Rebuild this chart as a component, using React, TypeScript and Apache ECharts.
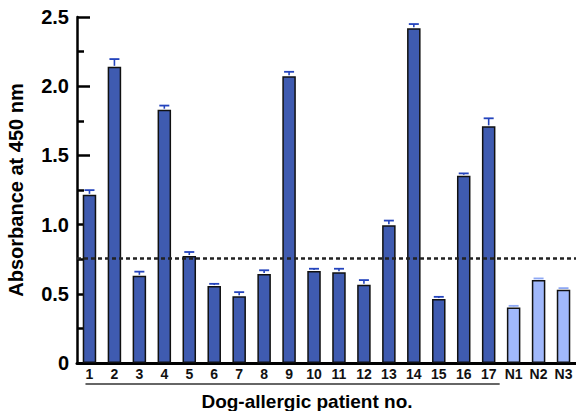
import React, { useEffect, useRef } from "react";
import * as echarts from "echarts";

const categories = ["1", "2", "3", "4", "5", "6", "7", "8", "9", "10", "11", "12", "13", "14", "15", "16", "17", "N1", "N2", "N3"];
const patientMeans = [1.215, 2.14, 0.63, 1.83, 0.773, 0.556, 0.483, 0.643, 2.072, 0.665, 0.655, 0.565, 0.995, 2.418, 0.462, 1.353, 1.71];
const patientErrors = [0.034, 0.056, 0.03, 0.03, 0.029, 0.016, 0.029, 0.027, 0.032, 0.016, 0.026, 0.034, 0.034, 0.031, 0.016, 0.017, 0.058];
const normalMeans = [0.401, 0.599, 0.529];
const normalErrors = [0.012, 0.012, 0.012];
const cutoff = 0.76;
const yMin = 0;
const yMax = 2.5;
const yInterval = 0.5;

const DARK = "#3f5bb0";
const LIGHT = "#a0b8fb";
const DARK_ERR = "#2444bd";
const LIGHT_ERR = "#8ea8f4";
const FONT = "'Liberation Sans', Arial, Helvetica, sans-serif";

export default function App() {
  const ref = useRef<HTMLDivElement>(null);

  useEffect(() => {
    if (!ref.current) return;
    document.body.style.margin = "0";
    const chart = echarts.init(ref.current, undefined, { renderer: "svg" });

    const means = [...patientMeans, ...normalMeans];
    const errors = [...patientErrors, ...normalErrors];
    const nPat = patientMeans.length;

    const barData = means.map((v, i) => ({
      value: v,
      itemStyle: { color: i < nPat ? DARK : LIGHT },
    }));
    const errData = means.map((v, i) => [i, v, errors[i], i < nPat ? 0 : 1]);

    chart.setOption({
      animation: false,
      grid: { left: 77, right: -6, top: 17, bottom: 48, containLabel: false },
      xAxis: {
        type: "category",
        data: categories,
        axisLine: { show: true, lineStyle: { color: "#000", width: 3 } },
        axisTick: { show: false },
        axisLabel: {
          interval: 0,
          margin: 4,
          color: "#111",
          fontSize: 14,
          fontWeight: "bold",
          fontFamily: FONT,
        },
        splitLine: { show: false },
      },
      yAxis: {
        type: "value",
        min: yMin,
        max: yMax,
        interval: yInterval,
        axisLine: { show: true, lineStyle: { color: "#000", width: 2.5 } },
        axisTick: { show: true, inside: true, length: 13, lineStyle: { color: "#000", width: 2.5 } },
        minorTick: { show: true, splitNumber: 2, length: 7, lineStyle: { color: "#000", width: 2.5 } },
        splitLine: { show: false },
        axisLabel: {
          margin: 8,
          color: "#000",
          fontSize: 20,
          fontWeight: "bold",
          fontFamily: FONT,
          formatter: (v: number) => (v === 0 ? "0" : v.toFixed(1)),
        },
      },
      series: [
        {
          type: "bar",
          data: barData,
          barWidth: 13.5,
          itemStyle: { borderColor: "#111", borderWidth: 1.5 },
          markLine: {
            silent: true,
            symbol: ["none", "none"],
            label: { show: false },
            lineStyle: { type: [4, 3], width: 2.5, color: "#222" },
            data: [{ yAxis: cutoff }],
          },
          z: 2,
        },
        {
          type: "custom",
          data: errData,
          z: 3,
          renderItem: (params: any, api: any) => {
            const x = api.value(0);
            const m = api.value(1);
            const e = api.value(2);
            const color = api.value(3) ? LIGHT_ERR : DARK_ERR;
            const top = api.coord([x, m + e]);
            const base = api.coord([x, m]);
            const hw = 5;
            return {
              type: "group",
              children: [
                {
                  type: "line",
                  shape: { x1: top[0], y1: top[1], x2: base[0], y2: base[1] - 1 },
                  style: { stroke: color, lineWidth: 1.6 },
                },
                {
                  type: "line",
                  shape: { x1: top[0] - hw, y1: top[1], x2: top[0] + hw, y2: top[1] },
                  style: { stroke: color, lineWidth: 1.8 },
                },
              ],
            };
          },
        },
      ],
    });

    const p1 = chart.convertToPixel({ xAxisIndex: 0, yAxisIndex: 0 }, [0, 0]);
    const p17 = chart.convertToPixel({ xAxisIndex: 0, yAxisIndex: 0 }, [nPat - 1, 0]);
    const pTop = chart.convertToPixel({ xAxisIndex: 0, yAxisIndex: 0 }, [0, yMax]);
    const yMid = (p1[1] + pTop[1]) / 2;

    chart.setOption({
      graphic: [
        {
          type: "line",
          shape: { x1: p1[0] - 4, y1: p1[1] + 21, x2: p17[0] + 11, y2: p1[1] + 21 },
          style: { stroke: "#333", lineWidth: 1.5 },
          silent: true,
        },
        {
          type: "text",
          x: 307,
          y: p1[1] + 38,
          style: {
            text: "Dog-allergic patient no.",
            fill: "#000",
            font: `bold 19px ${FONT}`,
            align: "center",
            verticalAlign: "middle",
          },
        },
        {
          type: "text",
          x: 16,
          y: yMid,
          rotation: Math.PI / 2,
          style: {
            text: "Absorbance at 450 nm",
            fill: "#000",
            font: `bold 20px ${FONT}`,
            align: "center",
            verticalAlign: "middle",
          },
        },
      ],
    });

    return () => chart.dispose();
  }, []);

  return <div ref={ref} style={{ position: "absolute", left: 0, top: 0, width: 576, height: 411 }} />;
}
